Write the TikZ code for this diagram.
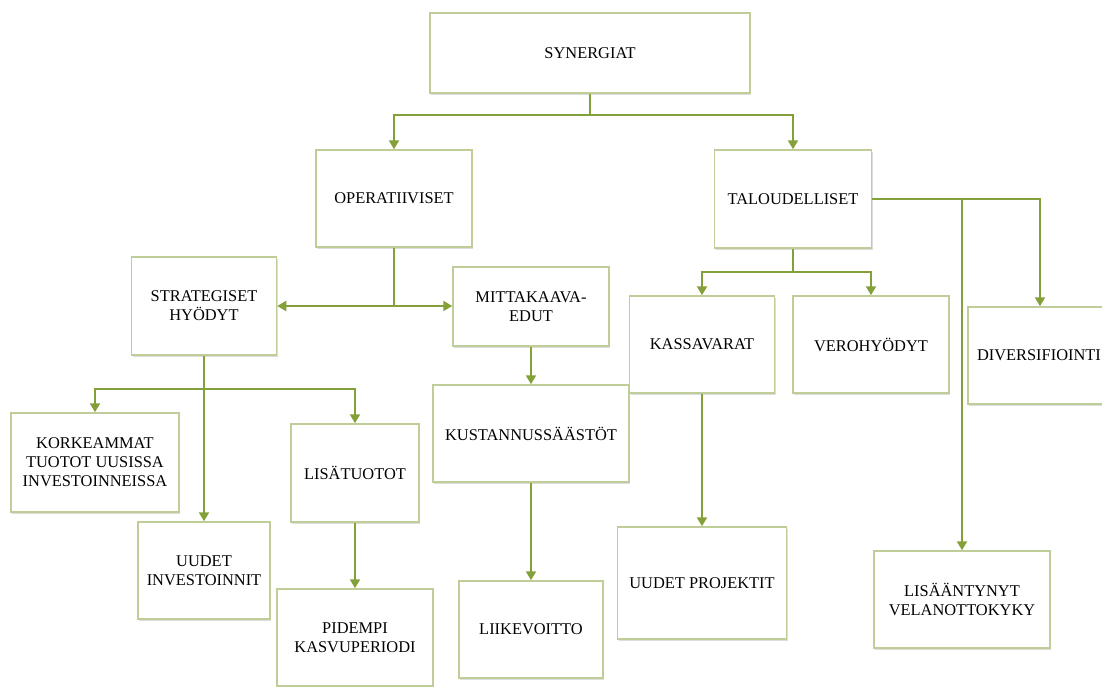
\documentclass[tikz,border=0pt]{standalone}
\usepackage{fontspec}
\setmainfont{Liberation Serif}
\usetikzlibrary{arrows.meta,shadows}
\definecolor{boxline}{HTML}{BFCE98}
\definecolor{connline}{HTML}{84A038}
\tikzset{
  box/.style={draw=boxline, line width=1.5pt, fill=white, align=center,
    inner sep=2pt, font=\fontsize{16.4}{19}\selectfont,
    drop shadow={shadow xshift=1.2pt, shadow yshift=-1.6pt, opacity=0.22, fill=black!60}},
  conn/.style={draw=connline, line width=2.1pt},
  tipa/.tip={Triangle[width=10pt,length=9pt]},
  arr/.style={conn, -tipa},
}
\begin{document}
\begin{tikzpicture}[x=1pt, y=-1pt]
\useasboundingbox (0,0) rectangle (1102,686);
\clip (0,0) rectangle (1102,686);
\fill[white] (0,0) rectangle (1102,686);

% boxes
\node[box, minimum width=320pt, minimum height=80pt] (syn) at (590,53) {SYNERGIAT};
\node[box, minimum width=156pt, minimum height=97pt] (op) at (394,198.5) {OPERATIIVISET};
\node[box, minimum width=157pt, minimum height=98pt] (tal) at (793,199) {TALOUDELLISET};
\node[box, minimum width=145pt, minimum height=98pt] (str) at (204,306) {STRATEGISET\\HYÖDYT};
\node[box, minimum width=156pt, minimum height=79pt] (mit) at (531,306.5) {MITTAKAAVA-\\EDUT};
\node[box, minimum width=145pt, minimum height=97pt] (kas) at (702,344.5) {KASSAVARAT};
\node[box, minimum width=156pt, minimum height=97pt] (ver) at (871,344.5) {VEROHYÖDYT};
\node[box, minimum height=97pt, inner xsep=9pt, text width=139pt, align=left] (div) at (1046.5,355.5) {DIVERSIFIOINTI};
\node[box, minimum width=168pt, minimum height=99pt] (kor) at (95,462.5) {KORKEAMMAT\\TUOTOT UUSISSA\\INVESTOINNEISSA};
\node[box, minimum width=196pt, minimum height=97pt] (kus) at (531,433.5) {KUSTANNUSSÄÄSTÖT};
\node[box, minimum width=128pt, minimum height=98pt] (lis) at (355,473) {LISÄTUOTOT};
\node[box, minimum width=132pt, minimum height=97pt] (uin) at (204,570.5) {UUDET\\INVESTOINNIT};
\node[box, minimum width=156pt, minimum height=97pt] (pid) at (355,637.5) {PIDEMPI\\KASVUPERIODI};
\node[box, minimum width=144pt, minimum height=97pt] (lii) at (531,629.5) {LIIKEVOITTO};
\node[box, minimum width=169pt, minimum height=112pt] (upr) at (702,583) {UUDET PROJEKTIT};
\node[box, minimum width=176pt, minimum height=97pt] (vel) at (962,599.5) {LISÄÄNTYNYT\\VELANOTTOKYKY};

% junction points
\coordinate (j1) at (590,115);
\coordinate (j2) at (204,389);
\coordinate (j3) at (793,272);

% connectors
\draw[conn] (syn.south) -- (j1);
\draw[arr] (j1) -| (op.north);
\draw[arr] (j1) -| (tal.north);

\draw[conn] (op.south) -- (op.south |- str.east);
\draw[arr] (op.south |- str.east) -- (str.east);
\draw[arr] (op.south |- str.east) -- (mit.west |- str.east);

\draw[arr] (str.south) -- (uin.north);
\draw[arr] (j2) -| (kor.north);
\draw[arr] (j2) -| (lis.north);
\draw[arr] (lis.south) -- (pid.north);

\draw[arr] (mit.south) -- (kus.north);
\draw[arr] (kus.south) -- (lii.north);

\draw[conn] (tal.south) -- (j3);
\draw[arr] (j3) -| (kas.north);
\draw[arr] (j3) -| (ver.north);
\draw[arr] (kas.south) -- (upr.north);

\draw[arr] (tal.east) -| ([xshift=-6.5pt]div.north);
\draw[arr] (tal.east -| vel.north) -- (vel.north);
\end{tikzpicture}
\end{document}
